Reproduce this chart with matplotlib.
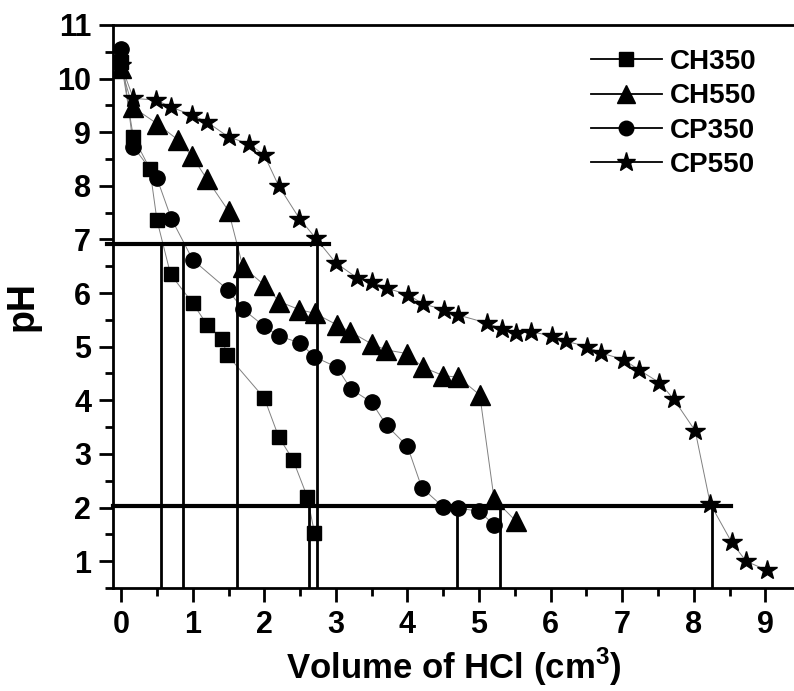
import matplotlib
matplotlib.use("Agg")
import matplotlib.pyplot as plt
from matplotlib.lines import Line2D
from matplotlib.ticker import MultipleLocator

plt.rcParams['font.family'] = ['Liberation Sans', 'DejaVu Sans']
plt.rcParams['font.weight'] = 'bold'

# titration curves, pH vs volume of HCl added
ch350_x = [0, 0.17, 0.40, 0.50, 0.69, 1.0, 1.20, 1.41, 1.48, 2.0, 2.2, 2.4, 2.6, 2.7]
ch350_y = [10.3, 8.91, 8.32, 7.36, 6.35, 5.81, 5.41, 5.14, 4.85, 4.04, 3.32, 2.89, 2.20, 1.53]

ch550_x = [0, 0.16, 0.50, 0.80, 0.99, 1.20, 1.50, 1.70, 2.0, 2.21, 2.49, 2.71, 3.01, 3.20,
           3.50, 3.70, 4.0, 4.21, 4.50, 4.71, 5.01, 5.21, 5.52]
ch550_y = [10.2, 9.47, 9.16, 8.85, 8.55, 8.12, 7.53, 6.49, 6.15, 5.84, 5.69, 5.62, 5.41, 5.28,
           5.05, 4.94, 4.87, 4.62, 4.46, 4.43, 4.10, 2.16, 1.74]

cp350_x = [0, 0.17, 0.50, 0.70, 1.0, 1.49, 1.70, 2.0, 2.2, 2.5, 2.7, 3.01, 3.21, 3.50, 3.71,
           4.0, 4.20, 4.50, 4.71, 5.0, 5.21]
cp350_y = [10.55, 8.73, 8.14, 7.39, 6.62, 6.06, 5.70, 5.38, 5.20, 5.07, 4.81, 4.62, 4.21, 3.96,
           3.53, 3.14, 2.37, 2.01, 1.99, 1.93, 1.68]

cp550_x = [0, 0.17, 0.49, 0.69, 0.99, 1.20, 1.50, 1.79, 2.0, 2.20, 2.49, 2.72, 3.0, 3.30, 3.51,
           3.71, 4.01, 4.21, 4.51, 4.71, 5.11, 5.32, 5.52, 5.72, 6.02, 6.22, 6.51, 6.71, 7.02,
           7.23, 7.52, 7.72, 8.02, 8.23, 8.53, 8.73, 9.02]
cp550_y = [10.25, 9.63, 9.60, 9.47, 9.32, 9.19, 8.91, 8.78, 8.57, 8.0, 7.39, 7.02, 6.56, 6.28,
           6.21, 6.09, 5.97, 5.80, 5.69, 5.59, 5.44, 5.33, 5.25, 5.28, 5.20, 5.10, 5.00, 4.88,
           4.76, 4.57, 4.33, 4.02, 3.43, 2.07, 1.35, 1.0, 0.83]

# equivalence point guide lines
ph_upper = 6.91
ph_lower = 2.02
upper_span = (-0.2, 2.91)
lower_span = (-0.11, 8.52)
upper_vlines = [0.55, 0.87, 1.62, 2.73]
lower_vlines = [2.62, 4.69, 5.29, 8.25]

labels = ['CH350', 'CH550', 'CP350', 'CP550']
markers = ['s', '^', 'o', '*']
msizes = [10.5, 14, 11, 15]

fig = plt.figure(figsize=(7.94, 6.91), dpi=100)
ax = fig.add_axes([0.1427, 0.1491, 0.8573, 0.8148])

series = [(ch350_x, ch350_y), (ch550_x, ch550_y), (cp350_x, cp350_y), (cp550_x, cp550_y)]
for (xs, ys), m, ms in zip(series, markers, msizes):
    ax.plot(xs, ys, color='0.5', lw=0.7, zorder=2)
    ax.plot(xs, ys, ls='none', marker=m, ms=ms, color='black', mec='black', zorder=4)

ax.plot(upper_span, [ph_upper, ph_upper], color='black', lw=3, clip_on=False, zorder=3)
ax.plot(lower_span, [ph_lower, ph_lower], color='black', lw=3, clip_on=False, zorder=3)
for v in upper_vlines:
    ax.plot([v, v], [0.5, ph_upper], color='black', lw=2, zorder=3)
for v in lower_vlines:
    ax.plot([v, v], [0.5, ph_lower], color='black', lw=2, zorder=3)

ax.set_xlim(-0.11, 9.40)
ax.set_ylim(0.5, 11)
ax.spines['right'].set_visible(False)
for s in ['top', 'bottom', 'left']:
    ax.spines[s].set_linewidth(2)

ax.set_xticks(range(0, 10))
ax.set_yticks(range(1, 12))
ax.xaxis.set_minor_locator(MultipleLocator(0.5))
ax.yaxis.set_minor_locator(MultipleLocator(0.5))
ax.tick_params(which='major', direction='out', length=10, width=2, labelsize=22, pad=6)
ax.tick_params(which='minor', direction='out', length=6, width=2)
ax.tick_params(top=False, right=False, which='both')
for lab in ax.get_xticklabels() + ax.get_yticklabels():
    lab.set_fontweight('bold')

ax.set_xlabel('Volume of HCl (cm$^\\mathregular{3}$)', fontsize=25, fontweight='bold', labelpad=4)
ax.set_ylabel('pH', fontsize=27, fontweight='bold', labelpad=12)

handles = [Line2D([], [], color='black', lw=1.3, marker=m, ms=ms * 0.95, mec='black')
           for m, ms in zip(markers, msizes)]
ax.legend(handles, labels, loc='upper left', bbox_to_anchor=(591 / 794, 1 - 49 / 691),
          bbox_transform=fig.transFigure, frameon=False, borderpad=0, borderaxespad=0,
          handlelength=2.55, handletextpad=0.3, labelspacing=0.3,
          prop={'size': 20, 'weight': 'bold'})

fig.savefig('out.png', dpi=100)
